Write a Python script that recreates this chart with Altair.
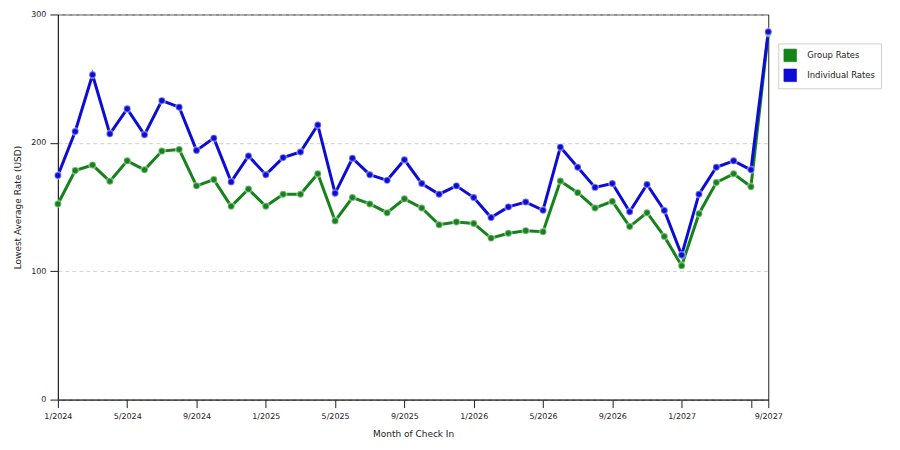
import pandas as pd
import altair as alt

months = [
    "1/2024", "2/2024", "3/2024", "4/2024", "5/2024", "6/2024", "7/2024", "8/2024",
    "9/2024", "10/2024", "11/2024", "12/2024", "1/2025", "2/2025", "3/2025", "4/2025",
    "5/2025", "6/2025", "7/2025", "8/2025", "9/2025", "10/2025", "11/2025", "12/2025",
    "1/2026", "2/2026", "3/2026", "4/2026", "5/2026", "6/2026", "7/2026", "8/2026",
    "9/2026", "10/2026", "11/2026", "12/2026", "1/2027", "2/2027", "3/2027", "4/2027",
    "5/2027", "9/2027",
]
group_rates = [
    152.4, 178.4, 182.7, 170.1, 186.0, 179.0, 193.6, 194.9, 166.5, 171.4, 150.6,
    164.0, 150.6, 160.0, 160.0, 175.9, 139.2, 157.4, 152.4, 145.6, 156.4, 149.3,
    136.2, 138.4, 137.2, 125.8, 129.6, 131.6, 130.8, 170.3, 161.2, 149.3, 154.4,
    134.8, 145.6, 127.1, 104.3, 144.8, 169.1, 175.9, 165.8, 285.5,
]
individual_rates = [
    174.6, 208.8, 253.0, 207.0, 226.5, 206.3, 232.9, 227.8, 194.1, 203.7, 169.6,
    189.8, 175.2, 188.5, 192.9, 213.9, 160.7, 188.0, 175.2, 170.8, 186.8, 168.3,
    160.0, 166.5, 157.4, 141.8, 150.1, 153.9, 147.5, 196.7, 181.0, 165.3, 168.3,
    146.3, 167.6, 147.3, 112.6, 160.0, 181.0, 186.0, 179.0, 286.5,
]
series_names = ["Group Rates", "Individual Rates"]
tick_months = ["1/2024", "5/2024", "9/2024", "1/2025", "5/2025", "9/2025", "1/2026",
               "5/2026", "9/2026", "1/2027", "5/2027", "9/2027"]

series_colors = ["#15821a", "#0c0cd6"]

df = pd.concat([
    pd.DataFrame({"month": months, "rate": group_rates, "series": series_names[0]}),
    pd.DataFrame({"month": months, "rate": individual_rates, "series": series_names[1]}),
], ignore_index=True)

font = "DejaVu Sans"

x = alt.X("month:N", sort=months, title="Month of Check In",
          scale=alt.Scale(type="point", padding=0),
          axis=alt.Axis(values=tick_months, labelAngle=0, grid=False,
                        labelExpr="datum.label == '5/2027' ? '' : datum.label",
                        labelPadding=5, titlePadding=9, tickSize=8))
y = alt.Y("rate:Q", title="Lowest Average Rate (USD)",
          scale=alt.Scale(domain=[0, 300], nice=False),
          axis=alt.Axis(values=[0, 100, 200, 300], tickSize=8, labelPadding=4,
                        titlePadding=8, grid=True, gridDash=[4, 3], gridColor="#d0d0d0"))
color = alt.Color("series:N", scale=alt.Scale(domain=series_names, range=series_colors),
                  legend=alt.Legend(title=None, orient="none", legendX=722, legendY=29,
                                    symbolType="square", symbolSize=160,
                                    symbolStrokeColor="#333333", symbolStrokeWidth=0.6,
                                    symbolOpacity=1,
                                    labelFont=font, labelFontSize=8.5, labelColor="#222222",
                                    rowPadding=4, labelOffset=10, padding=5,
                                    strokeColor="#cfcfcf", fillColor="#ffffff"))

lines = alt.Chart(df).mark_line(strokeWidth=3).encode(x=x, y=y, color=color)
points = alt.Chart(df).mark_point(filled=True, size=48, stroke="white", strokeWidth=1.8,
                                  strokeOpacity=0.4, opacity=1).encode(x=x, y=y, color=color)

chart = alt.layer(lines, points).properties(
    width=712, height=386,
    autosize=alt.AutoSizeParams(type="none"),
    padding={"left": 50, "top": 6, "right": 124, "bottom": 40},
).configure_view(
    stroke="#222222", strokeWidth=1,
).configure_axis(
    domainColor="#222222", tickColor="#222222",
    labelFont=font, labelFontSize=8, labelColor="#222222",
    titleFont=font, titleFontSize=9, titleFontWeight="normal", titleColor="#222222",
)

chart.save("out.html", embed_options={"renderer": "svg", "actions": False})
